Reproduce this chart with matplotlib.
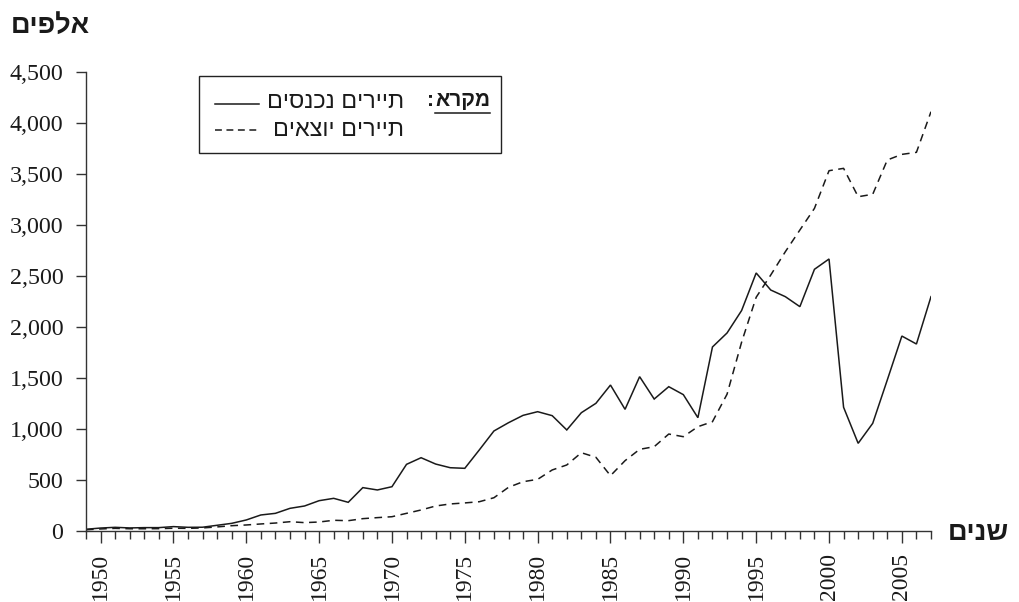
import matplotlib
matplotlib.use("Agg")
import matplotlib.pyplot as plt
from matplotlib.lines import Line2D
from matplotlib.patches import Rectangle

# ---------------- data ----------------
years = list(range(1949, 2008))
incoming = [17, 29, 36, 30, 33, 33, 43, 36, 37, 56,
            75, 108, 157, 173, 222, 245, 297, 320, 281, 425,
            402, 434, 653, 718, 656, 620, 614, 795, 980, 1061,
            1133, 1169, 1130, 990, 1159, 1251, 1430, 1192, 1512, 1293,
            1414, 1336, 1110, 1803, 1940, 2160, 2528, 2361, 2296, 2198,
            2564, 2665, 1212, 859, 1055, 1480, 1910, 1832, 2296]
outgoing = [12, 20, 26, 22, 22, 23, 27, 26, 30, 40,
            52, 59, 69, 78, 91, 82, 88, 105, 101, 121,
            131, 140, 173, 206, 245, 265, 275, 287, 326, 428,
            483, 506, 598, 647, 767, 722, 542, 689, 800, 826,
            950, 924, 1022, 1071, 1340, 1850, 2290, 2508, 2736, 2949,
            3161, 3530, 3553, 3275, 3299, 3635, 3690, 3710, 4108]
y_ticks = [0, 500, 1000, 1500, 2000, 2500, 3000, 3500, 4000, 4500]
x_label_years = [1950, 1955, 1960, 1965, 1970, 1975, 1980, 1985, 1990, 1995, 2000, 2005]

label_in = "תיירים נכנסים"
label_out = "תיירים יוצאים"
legend_title = "מקרא"
y_title = "אלפים"
x_title = "שנים"


def vis(s):
    # matplotlib has no bidi support: reverse Hebrew for visual order
    return s[::-1]


W, H = 1019, 602
fig = plt.figure(figsize=(W / 100, H / 100), dpi=100)
fig.patch.set_facecolor("white")

ax = fig.add_axes([86 / W, 1 - 531 / H, (931 - 86) / W, (531 - 71.7) / H])

line_col = "#1a1a1a"
ax.plot(years, incoming, color=line_col, lw=1.1, solid_joinstyle="miter")
ax.plot(years, outgoing, color=line_col, lw=1.1, linestyle=(0, (5, 3.6)))

ax.set_xlim(years[0], years[-1])
ax.set_ylim(y_ticks[0], y_ticks[-1])

for s in ["top", "right"]:
    ax.spines[s].set_visible(False)
for s in ["left", "bottom"]:
    ax.spines[s].set_color("#333333")
    ax.spines[s].set_linewidth(1.0)

serif = ["Liberation Serif", "DejaVu Serif"]
ax.set_yticks(y_ticks)
ax.set_yticklabels([f"{v:,}" for v in y_ticks], fontfamily=serif, fontsize=17.3)
ax.tick_params(axis="y", direction="out", length=7.2, width=1.0, color="#333333",
               pad=9.0, colors="#1a1a1a")

ax.set_xticks(x_label_years)
ax.set_xticklabels([str(y) for y in x_label_years], rotation=90,
                   fontfamily=serif, fontsize=17)
ax.set_xticks(years, minor=True)
ax.tick_params(axis="x", which="major", direction="out", length=8.5, width=1.0,
               color="#333333", pad=7, colors="#1a1a1a")
ax.tick_params(axis="x", which="minor", direction="out", length=6.0, width=1.0,
               color="#333333")

heb = ["Liberation Sans", "DejaVu Sans"]

# axis titles
fig.text(50 / W, 1 - 26 / H, vis(y_title), ha="center", va="center",
         fontfamily=heb, fontweight="bold", fontsize=19.5, color="#1a1a1a")
fig.text(978 / W, 1 - 533 / H, vis(x_title), ha="center", va="center",
         fontfamily=heb, fontweight="bold", fontsize=19.5, color="#1a1a1a")

# legend box (custom, right-to-left layout)
box = Rectangle((199 / W, 1 - 153 / H), (501 - 199) / W, (153 - 76) / H,
                transform=fig.transFigure, fill=False, ec="#222222", lw=1.0)
fig.add_artist(box)

t_title = fig.text(490 / W, 1 - 101 / H, vis(legend_title), ha="right", va="center",
                   fontfamily=heb, fontweight="bold", fontsize=15, color="#1a1a1a")
fig.canvas.draw()
bb = t_title.get_window_extent()
fig.text((bb.x0 - 1) / W, 1 - 101 / H, ":", ha="right", va="center",
         fontfamily=heb, fontweight="bold", fontsize=15, color="#1a1a1a")
fig.add_artist(Line2D([bb.x0 / W, bb.x1 / W], [1 - 112.5 / H, 1 - 112.5 / H],
                      transform=fig.transFigure, color="#1a1a1a", lw=1.1))

fig.text(404 / W, 1 - 102 / H, vis(label_in), ha="right", va="center",
         fontfamily=heb, fontsize=16.8, color="#1a1a1a")
fig.text(404 / W, 1 - 129 / H, vis(label_out), ha="right", va="center",
         fontfamily=heb, fontsize=16.8, color="#1a1a1a")
fig.add_artist(Line2D([215 / W, 259 / W], [1 - 103.5 / H, 1 - 103.5 / H],
                      transform=fig.transFigure, color=line_col, lw=1.1))
fig.add_artist(Line2D([215 / W, 257 / W], [1 - 130 / H, 1 - 130 / H],
                      transform=fig.transFigure, color=line_col, lw=1.1,
                      linestyle=(0, (4.5, 3.0))))

fig.savefig("out.png", dpi=100, facecolor="white")
